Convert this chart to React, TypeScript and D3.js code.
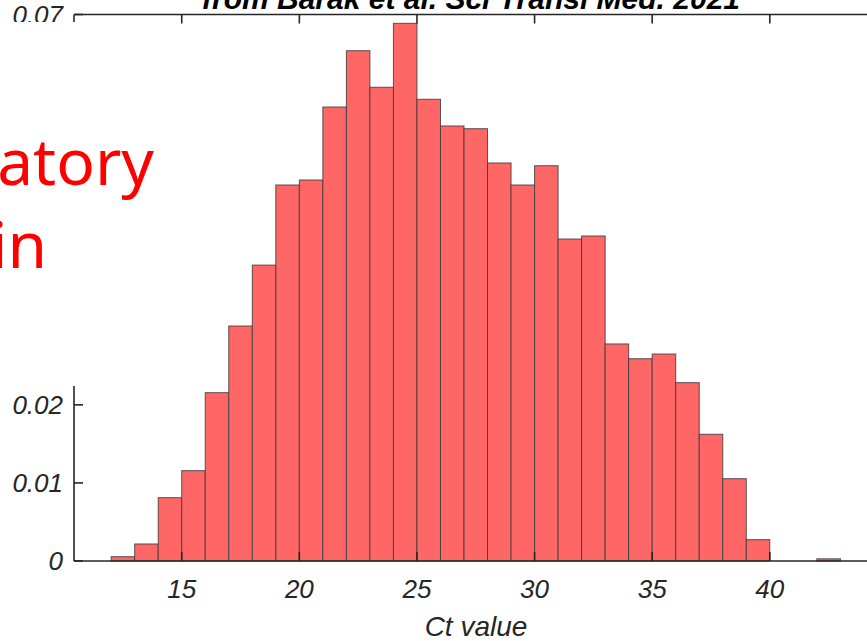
import React from "react";
import * as d3 from "d3";

// histogram bins (Ct value, width 1) and their probability density
const binLefts = [12, 13, 14, 15, 16, 17, 18, 19, 20, 21, 22, 23, 24, 25, 26, 27, 28, 29, 30, 31, 32, 33, 34, 35, 36, 37, 38, 39, 40, 41, 42];
const density = [
  0.00055, 0.00218, 0.00811, 0.01157, 0.02156, 0.0301, 0.0379, 0.04816, 0.0488, 0.05815,
  0.06536, 0.06068, 0.06887, 0.05914, 0.05572, 0.05537, 0.05098, 0.04816, 0.05063, 0.04124,
  0.04163, 0.0278, 0.02591, 0.02651, 0.02284, 0.01623, 0.01054, 0.00273, 0, 0, 0.00028,
];
const binWidth = 1;

const xTicks = [15, 20, 25, 30, 35, 40];
const yTicks = [0, 0.01, 0.02, 0.03, 0.04, 0.05, 0.06, 0.07];
const yTickLabels = ["0", "0.01", "0.02", "0.03", "0.04", "0.05", "0.06", "0.07"];

const titleText = "from Barak et al. Sci Transl Med. 2021";
const xLabel = "Ct value";
const slideWords = ["atory", "in"];

export default function App() {
  const width = 867;
  const height = 641;
  const axisFont = "'Liberation Sans', Arial, sans-serif";
  const axisColor = "#262626";

  //scales
  const x = d3.scaleLinear().domain([10.42, 44.6]).range([74, 878]);
  const y = d3.scaleLinear().domain([0, 0.07]).range([561, 14.5]);

  const [x0, x1] = x.range();
  const [yBottom, yTop] = y.range();
  const tickLen = 9;

  // white slide text box that hides part of the left axis
  const box = { x: 0, y: 22, w: 170, h: 364 };
  const hidden = (py: number) => py > box.y + 12 && py < box.y + box.h;

  return (
    <svg
      width={width}
      height={height}
      style={{ position: "absolute", left: 0, top: 0, background: "#fff" }}
    >
      {/* title, mostly cut off at the top */}
      <text
        x={471}
        y={9}
        textAnchor="middle"
        fontFamily={axisFont}
        fontStyle="italic"
        fontWeight="bold"
        fontSize={30}
        fill="#000"
      >
        {titleText}
      </text>

      {/* bars */}
      <g>
        {binLefts.map((b, i) =>
          density[i] > 0 ? (
            <rect
              key={b}
              x={x(b)}
              y={y(density[i])}
              width={x(b + binWidth) - x(b)}
              height={y(0) - y(density[i])}
              fill="#ff6666"
              stroke="#3c3c3c"
              strokeOpacity={0.85}
              strokeWidth={1}
            />
          ) : null
        )}
      </g>

      {/* box axes */}
      <g stroke={axisColor} strokeWidth={1.6} fill="none">
        <line x1={x0} x2={x1} y1={yBottom} y2={yBottom} />
        <line x1={x0} x2={x1} y1={yTop} y2={yTop} />
        <line x1={x0} x2={x0} y1={yBottom} y2={yTop} />
        {xTicks.map((t) => (
          <g key={t}>
            <line x1={x(t)} x2={x(t)} y1={yBottom} y2={yBottom - tickLen} />
            <line x1={x(t)} x2={x(t)} y1={yTop} y2={yTop + tickLen} />
          </g>
        ))}
        {yTicks.map((t) => (
          <line key={t} x1={x0} x2={x0 + tickLen} y1={y(t)} y2={y(t)} />
        ))}
      </g>

      {/* tick labels */}
      <g fontFamily={axisFont} fontStyle="italic" fontSize={26} fill={axisColor}>
        {xTicks.map((t) => (
          <text key={t} x={x(t)} y={598} textAnchor="middle">
            {t}
          </text>
        ))}
        {yTicks.map((t, i) =>
          hidden(y(t)) ? null : (
            <text key={t} x={63} y={y(t)} dy="0.35em" textAnchor="end">
              {yTickLabels[i]}
            </text>
          )
        )}
      </g>

      <text
        x={476}
        y={636}
        textAnchor="middle"
        fontFamily={axisFont}
        fontStyle="italic"
        fontSize={28}
        fill={axisColor}
      >
        {xLabel}
      </text>

      {/* slide text box lying over the left part of the figure */}
      <rect x={box.x} y={box.y} width={box.w} height={box.h} fill="#fff" />
      <g fontFamily="'Noto Sans', sans-serif" fontSize={64} fill="#ff0000" textAnchor="end">
        <text x={154} y={185}>{slideWords[0]}</text>
        <text x={47} y={268}>{slideWords[1]}</text>
      </g>
    </svg>
  );
}
